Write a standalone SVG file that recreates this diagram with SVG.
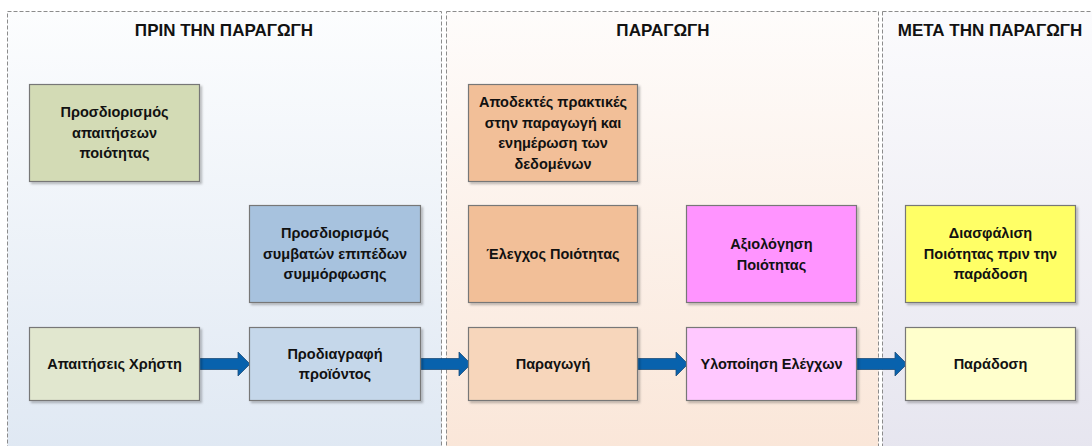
<svg xmlns="http://www.w3.org/2000/svg" width="1092" height="446" viewBox="0 0 1092 446">
<defs>
<linearGradient id="g1" x1="0" y1="0" x2="0" y2="1"><stop offset="0" stop-color="#fcfdfe"/><stop offset="1" stop-color="#dfe8f3"/></linearGradient>
<linearGradient id="g2" x1="0" y1="0" x2="0" y2="1"><stop offset="0" stop-color="#fefcfb"/><stop offset="1" stop-color="#fae6d8"/></linearGradient>
<linearGradient id="g3" x1="0" y1="0" x2="0" y2="1"><stop offset="0" stop-color="#fbfbfd"/><stop offset="1" stop-color="#e6e5ef"/></linearGradient>
<filter id="sh" x="-10%" y="-10%" width="125%" height="130%"><feDropShadow dx="2" dy="2" stdDeviation="1.2" flood-color="#000" flood-opacity="0.25"/></filter>
<path id="arr" d="M0,-5.5 H39 V-12 L51,0 L39,12 V5.5 H0 Z"/>
</defs>
<style>
.panel{stroke:#8c8c8c;stroke-width:1;stroke-dasharray:4 2}
.box{stroke:#777;stroke-width:1.2;filter:url(#sh)}
.t{font-family:"Liberation Sans",Arial,sans-serif;font-weight:bold;font-size:14.5px;fill:#111;text-anchor:middle}
.h{font-family:"Liberation Sans",Arial,sans-serif;font-weight:bold;font-size:17px;fill:#111;text-anchor:middle}
.a{fill:#0862ad;stroke:#1f4e79;stroke-width:0.8}
</style>
<rect width="1092" height="446" fill="#fff"/>
<g id="panel-before"><rect class="panel" x="7.5" y="11.5" width="434" height="445" fill="url(#g1)"/><text class="h" x="224" y="36">ΠΡΙΝ ΤΗΝ ΠΑΡΑΓΩΓΗ</text></g>
<g id="panel-production"><rect class="panel" x="446.5" y="11.5" width="432" height="445" fill="url(#g2)"/><text class="h" x="663" y="36">ΠΑΡΑΓΩΓΗ</text></g>
<g id="panel-after"><rect class="panel" x="882.5" y="11.5" width="220" height="445" fill="url(#g3)"/><text class="h" x="990" y="36">ΜΕΤΑ ΤΗΝ ΠΑΡΑΓΩΓΗ</text></g>

<g id="connectors">
<use href="#arr" class="a" x="199" y="364"/>
<use href="#arr" class="a" x="420" y="364"/>
<use href="#arr" class="a" x="637" y="364"/>
<use href="#arr" class="a" x="856" y="364"/>
</g>

<g id="n1"><rect class="box" x="29.5" y="84.5" width="170" height="97" fill="#d3dbb5"/><text class="t" x="114.5"><tspan x="114.5" y="117">Προσδιορισμός</tspan><tspan x="114.5" y="137.5">απαιτήσεων</tspan><tspan x="114.5" y="158">ποιότητας</tspan></text></g>
<g id="n2"><rect class="box" x="29.5" y="327.5" width="170" height="73" fill="#e1e7cf"/><text class="t" x="114.5" y="369">Απαιτήσεις Χρήστη</text></g>
<g id="n3"><rect class="box" x="249.5" y="205.5" width="171" height="97" fill="#a7c2de"/><text class="t"><tspan x="335" y="238">Προσδιορισμός</tspan><tspan x="335" y="258.5">συμβατών επιπέδων</tspan><tspan x="335" y="279">συμμόρφωσης</tspan></text></g>
<g id="n4"><rect class="box" x="249.5" y="327.5" width="171" height="73" fill="#c5d7ea"/><text class="t"><tspan x="335" y="358.5">Προδιαγραφή</tspan><tspan x="335" y="379">προϊόντος</tspan></text></g>
<g id="n5"><rect class="box" x="468.5" y="84.5" width="169" height="97" fill="#f2bf98"/><text class="t"><tspan x="553" y="107">Αποδεκτές πρακτικές</tspan><tspan x="553" y="127.5">στην παραγωγή και</tspan><tspan x="553" y="148">ενημέρωση των</tspan><tspan x="553" y="168.5">δεδομένων</tspan></text></g>
<g id="n6"><rect class="box" x="468.5" y="205.5" width="169" height="97" fill="#f2bf98"/><text class="t" x="553" y="259">Έλεγχος Ποιότητας</text></g>
<g id="n7"><rect class="box" x="468.5" y="327.5" width="169" height="73" fill="#f7d6bb"/><text class="t" x="553" y="369">Παραγωγή</text></g>
<g id="n8"><rect class="box" x="686.5" y="205.5" width="170" height="97" fill="#ff94ff"/><text class="t"><tspan x="771.5" y="249">Αξιολόγηση</tspan><tspan x="771.5" y="269.5">Ποιότητας</tspan></text></g>
<g id="n9"><rect class="box" x="686.5" y="327.5" width="170" height="73" fill="#ffc8ff"/><text class="t" x="771.5" y="369">Υλοποίηση Ελέγχων</text></g>
<g id="n10"><rect class="box" x="905.5" y="205.5" width="170" height="97" fill="#ffff66"/><text class="t"><tspan x="990.5" y="238">Διασφάλιση</tspan><tspan x="990.5" y="258.5">Ποιότητας πριν την</tspan><tspan x="990.5" y="279">παράδοση</tspan></text></g>
<g id="n11"><rect class="box" x="905.5" y="327.5" width="170" height="73" fill="#ffffcc"/><text class="t" x="990.5" y="369">Παράδοση</text></g>
</svg>
